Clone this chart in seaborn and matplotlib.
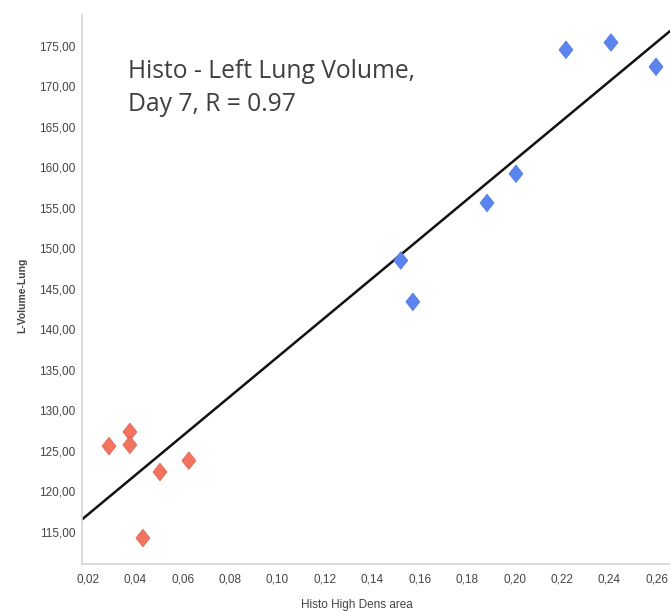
import numpy as np
import pandas as pd
import matplotlib
matplotlib.use("Agg")
import matplotlib.pyplot as plt
import seaborn as sns

# values
red_x = [0.0289, 0.0377, 0.0377, 0.0432, 0.0504, 0.0626]
red_y = [125.6, 127.35, 125.75, 114.25, 122.4, 123.8]
blue_x = [0.1520, 0.1571, 0.1884, 0.2006, 0.2217, 0.2407, 0.2597]
blue_y = [148.5, 143.4, 155.6, 159.2, 174.5, 175.4, 172.4]
x_ticks = [0.02, 0.04, 0.06, 0.08, 0.10, 0.12, 0.14, 0.16, 0.18, 0.20, 0.22, 0.24, 0.26]
y_ticks = [115, 120, 125, 130, 135, 140, 145, 150, 155, 160, 165, 170, 175]

data = pd.DataFrame({
    "x": red_x + blue_x,
    "y": red_y + blue_y,
    "group": ["low"] * len(red_x) + ["high"] * len(blue_x),
})

sns.set_style("white")
plt.rcParams["font.family"] = ["Liberation Sans", "DejaVu Sans"]

fig = plt.figure(figsize=(6.7, 6.11), dpi=100)
ax = fig.add_axes([0.1224, 0.0769, 0.8776, 0.8986])
ax.set_xlim(0.0175, 0.2656)
ax.set_ylim(111.05, 178.8)

sns.regplot(data=data, x="x", y="y", scatter=False, ci=None, truncate=False,
            line_kws={"color": "#111111", "lw": 1.8}, ax=ax)

diamond = [(0, 1), (0.8, 0), (0, -1), (-0.8, 0), (0, 1)]
sns.scatterplot(data=data, x="x", y="y", hue="group",
                palette={"low": "#F4735E", "high": "#5B84EE"},
                edgecolor="#d8604e", linewidth=0.5, marker=diamond, s=160,
                legend=False, ax=ax, zorder=3)
ax.collections[-1].set_edgecolor(["#d8604e"] * len(red_x) + ["#4f76dc"] * len(blue_x))

ax.set_xticks(x_ticks)
ax.set_yticks(y_ticks)
ax.set_xticklabels([f"{v:.2f}".replace(".", ",") for v in x_ticks])
ax.set_yticklabels([f"{v:.2f}".replace(".", ",") for v in y_ticks])
ax.tick_params(axis="both", labelsize=8.5, labelcolor="#444444", color="#cccccc",
               length=4, width=0.8, direction="out")
ax.tick_params(axis="x", pad=3)
ax.tick_params(axis="y", pad=1)

for side in ["top", "right"]:
    ax.spines[side].set_visible(False)
for side in ["left", "bottom"]:
    ax.spines[side].set_color("#d4d4d4")
    ax.spines[side].set_linewidth(1.2)

ax.set_xlabel("Histo High Dens area", fontsize=8.5, color="#444444")
ax.set_ylabel("L-Volume-Lung", fontsize=7.5, color="#444444", fontweight="bold")
ax.xaxis.set_label_coords(0.468, -0.063)
ax.yaxis.set_label_coords(-0.093, 0.49)

ax.text(0.078, 0.92, "Histo - Left Lung Volume,\nDay 7, R = 0.97",
        transform=ax.transAxes, ha="left", va="top", fontsize=17.7,
        family=["Open Sans", "DejaVu Sans"], color="#3f3f3f", linespacing=1.45)

fig.savefig("out.png", dpi=100)
